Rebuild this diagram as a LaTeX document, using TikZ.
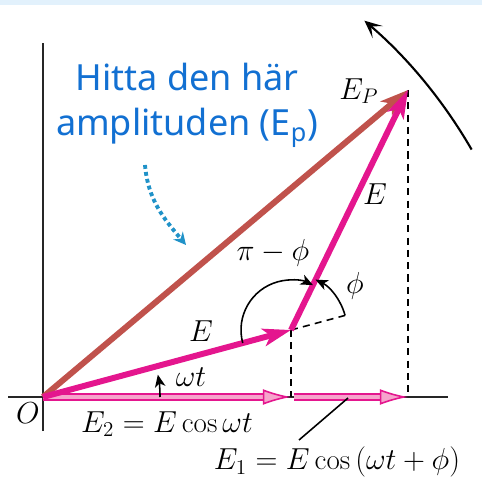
\documentclass[tikz,border=0pt]{standalone}
\usepackage{fontspec}
\usepackage{xcolor}
\usepackage{tikz}
\usetikzlibrary{arrows.meta,calc}
\newfontfamily\notefont{Noto Sans}
\definecolor{phasorpink}{RGB}{228,22,142}
\definecolor{pinkfill}{RGB}{246,164,204}
\definecolor{resred}{RGB}{192,82,76}
\definecolor{noteblue}{RGB}{18,112,210}
\definecolor{dotblue}{RGB}{32,146,200}
\definecolor{bandblue}{RGB}{226,241,252}

\begin{document}
\begin{tikzpicture}[x=0.02cm, y=0.02cm, every node/.style={font=\fontsize{16.5}{19}\selectfont}, axis/.style={line width=0.9pt, black!85}, phasor/.style={line width=3.4pt, phasorpink, -{Stealth[length=16pt,width=10pt,inset=4pt]}}, result/.style={line width=3.4pt, resred, -{Stealth[length=16pt,width=10pt,inset=4pt]}}, comp/.style={draw=phasorpink, line width=0.9pt, double=pinkfill, double distance=2.5pt, -{Latex[length=16pt,width=9pt,fill=pinkfill]}}, guide/.style={line width=0.9pt, dash pattern=on 4pt off 3pt}, angarr/.style={line width=0.9pt, -{Stealth[length=7pt,width=6pt,inset=2pt]}}, note/.style={align=center, text=noteblue, font=\notefont\fontsize{20.5}{26}\selectfont}]
\useasboundingbox (0,0) rectangle (482,479);
\fill[bandblue] (0,474) rectangle (482,479);
% points of the phasor diagram
\coordinate (O) at (43,82);
\coordinate (A) at (291,82);
\coordinate (B) at (408,82);
\coordinate (P) at (291,149);
\coordinate (Q) at (408,389);
\coordinate (Pext) at ($(P)+(15.1:1.12cm)$);
\coordinate (xl) at (8,82); \coordinate (xr) at (448,82);
\coordinate (yb) at (43,48); \coordinate (yt) at (43,436);
\draw[axis] (xl) -- (xr); \draw[axis] (yb) -- (yt);
% dashed guides
\draw[guide] (P) -- (A); \draw[guide] (Q) -- (B); \draw[guide] (P) -- (Pext);
% components on the axis
\draw[comp] (O) -- (A);
\draw[comp, shorten <=1.5pt] (A) -- (B);
% phasors
\draw[result] (O) -- (Q);
\draw[phasor] (O) -- (P);
\draw[phasor] (P) -- (Q);
% angles
\draw[angarr] ($(O)+(117,0)$) arc[start angle=0, end angle=11, radius=2.34cm];
\draw[angarr] ($(P)+(195.1:1cm)$) arc[start angle=195.1, end angle=64, radius=1cm];
\draw[angarr] (Pext) arc[start angle=15.1, end angle=64, radius=1.12cm];
% rotation
\draw[line width=1.2pt, -{Stealth[length=10pt,width=9pt,inset=5pt]}] ($(O)+(30:9.9cm)$) arc[start angle=30, end angle=49.5, radius=9.9cm];
% labels
\node (lO) at (28,66) {$O$};
\node (lEtwo) at (167,55) {$E_2 = E\cos\omega t$};
\node (lEone) at (337,17) {$E_1 = E\cos\,(\omega t + \phi)$};
\coordinate (lead) at (348,81); \coordinate (leadfoot) at (299,39);
\draw[line width=0.9pt] (lead) -- (leadfoot);
\node (lwt) at (191,102) {$\omega t$};
\node (lE) at (201,148) {$E$};
\node (lpiphi) at (273,226) {$\pi - \phi$};
\node (lphi) at (355,193) {$\phi$};
\node (lEb) at (375,285) {$E$};
\node (lEp) at (359,388) {$E_P$};
% note
\node[note] (note) at (187,374) {Hitta den här\\amplituden (E\textsubscript{p})};
\coordinate (dotstart) at (145,314); \coordinate (dotend) at (186,234);
\draw[dotblue, line width=2.2pt, dash pattern=on 2.2pt off 1.8pt, -{Stealth[length=7pt,width=7pt]}] (dotstart) to[out=-85, in=130] (dotend);
\end{tikzpicture}
\end{document}
